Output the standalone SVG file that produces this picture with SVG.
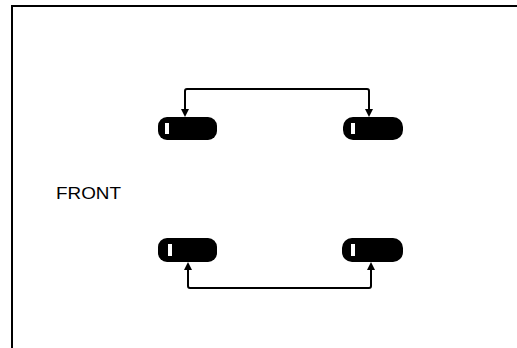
<svg xmlns="http://www.w3.org/2000/svg" width="517" height="348" viewBox="0 0 517 348">
<style>
.frame{fill:none;stroke:#000;stroke-width:2}
.pill{fill:#000}
.mark{fill:#fff}
.conn{fill:none;stroke:#000;stroke-width:2}
.lbl{font-family:"Liberation Sans",Arial,sans-serif;font-size:17px;fill:#000}
</style>
<defs>
<marker id="ah" viewBox="0 0 10 10" refX="9" refY="5" markerWidth="5" markerHeight="5" orient="auto" markerUnits="userSpaceOnUse">
<path d="M0,0 L10,5 L0,10 z" fill="#000"/>
</marker>
</defs>
<rect width="517" height="348" fill="#fff"/>
<path class="frame" d="M12,348 V6 H517"/>
<g id="connectors">
<path class="conn" d="M185,110 V91 Q185,89 187,89 H367 Q369,89 369,91 V110"/>
<path d="M181,109 L189,109 L185,117 z" fill="#000"/>
<path d="M365,109 L373,109 L369,117 z" fill="#000"/>
<path class="conn" d="M188,269 V286 Q188,288 190,288 H369 Q371,288 371,286 V269"/>
<path d="M184,270 L192,270 L188,262 z" fill="#000"/>
<path d="M367,270 L375,270 L371,262 z" fill="#000"/>
</g>
<g id="node-top-left">
<rect class="pill" x="158" y="117" width="59" height="23" rx="9"/>
<rect class="mark" x="165" y="123" width="4" height="11"/>
</g>
<g id="node-top-right">
<rect class="pill" x="343" y="117" width="60" height="23" rx="10"/>
<rect class="mark" x="351" y="123" width="4" height="11"/>
</g>
<g id="node-bottom-left">
<rect class="pill" x="158" y="238" width="59" height="24" rx="9"/>
<rect class="mark" x="168" y="244" width="4" height="12"/>
</g>
<g id="node-bottom-right">
<rect class="pill" x="342" y="238" width="61" height="24" rx="10"/>
<rect class="mark" x="351" y="244" width="4" height="12"/>
</g>
<g id="label-front">
<text class="lbl" x="56" y="199" textLength="65" lengthAdjust="spacingAndGlyphs">FRONT</text>
</g>
</svg>
